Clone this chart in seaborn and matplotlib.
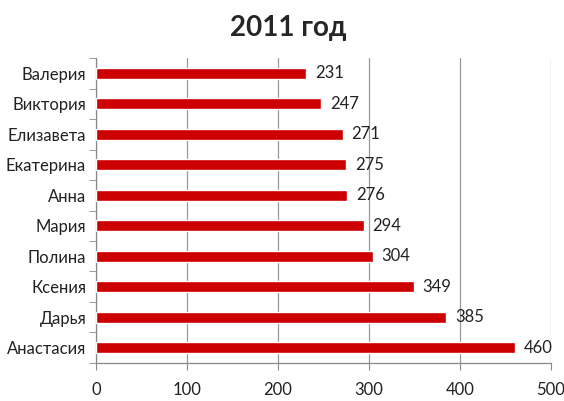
import numpy as np
import pandas as pd
import matplotlib
matplotlib.use("Agg")
import matplotlib.pyplot as plt
import seaborn as sns

# Data (top to bottom)
names = ['Валерия', 'Виктория', 'Елизавета', 'Екатерина', 'Анна',
         'Мария', 'Полина', 'Ксения', 'Дарья', 'Анастасия']
counts = [231, 247, 271, 275, 276, 294, 304, 349, 385, 460]
xticks = [0, 100, 200, 300, 400, 500]

df = pd.DataFrame({'name': names, 'count': counts})

sns.set_style("white")
plt.rcParams['font.family'] = ['Lato', 'DejaVu Sans']

fig = plt.figure(figsize=(5.64, 4.01), dpi=100)
ax = fig.add_axes([0.170, 0.095, 0.807, 0.76])

sns.barplot(data=df, y='name', x='count', color='#CC0000', width=0.37,
            saturation=1, ax=ax, zorder=3)

for i, v in enumerate(counts):
    ax.text(v + 10, i, str(v), va='center', ha='left', fontsize=12, color='#222222', zorder=4)

ax.set_xlim(0, 500)
ax.set_ylim(len(names) - 0.5, -0.5)
ax.set_xticks(xticks)
ax.set_xticklabels([str(t) for t in xticks], fontsize=12, color='#222222')
ax.tick_params(axis='x', length=5, color='#888888', direction='out', pad=9, bottom=True)
ax.tick_params(axis='y', which='major', length=0, pad=7, labelsize=12, labelcolor='#222222')
ax.set_yticks(np.arange(-0.5, len(names), 1), minor=True)
ax.tick_params(axis='y', which='minor', length=5, color='#888888', direction='out', left=True)
ax.set_xlabel('')
ax.set_ylabel('')
ax.grid(axis='x', color='#999999', linewidth=0.9, zorder=0)
ax.grid(axis='y', visible=False)

for s in ['top', 'right']:
    ax.spines[s].set_visible(False)
for s in ['left', 'bottom']:
    ax.spines[s].set_color('#888888')
    ax.spines[s].set_linewidth(0.9)

fig.text(0.511, 0.93, '2011 год', ha='center', va='center', fontsize=20, fontweight='bold')

fig.savefig('out.png', dpi=100)
